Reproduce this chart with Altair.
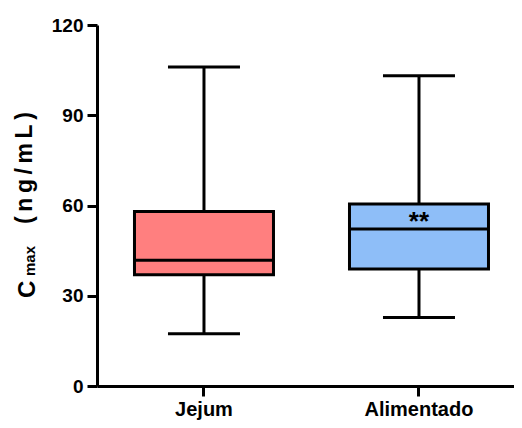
import altair as alt
import pandas as pd

# ---- data ----
groups = ["Jejum", "Alimentado"]
whisker_low = [17.4, 22.8]
q1 = [37.0, 38.9]
median = [41.8, 52.2]
q3 = [58.0, 60.5]
whisker_high = [106.0, 103.1]
fills = ["#FF7F7F", "#8EBEF8"]
y_ticks = [0, 30, 60, 90, 120]
ann_text = ["", "**"]
ann_y = [0, 55.9]

df = pd.DataFrame({
    "group": groups,
    "low": whisker_low,
    "q1": q1,
    "median": median,
    "q3": q3,
    "high": whisker_high,
    "ann": ann_text,
    "ann_y": ann_y,
})

FONT = "Liberation Sans"

xenc = alt.X(
    "group:N",
    sort=groups,
    scale=alt.Scale(paddingInner=0.3535, paddingOuter=0.1465, align=0.595),
    axis=alt.Axis(
        title=None, labelFont=FONT, labelFontSize=20, labelFontWeight="bold",
        labelColor="black", labelAngle=0, domainColor="black", domainWidth=3,
        tickColor="black", tickWidth=3, tickSize=10, labelPadding=3, grid=False,
    ),
)
yscale = alt.Scale(domain=[0, 120], nice=False, zero=True)
yaxis = alt.Axis(
    title=None, values=y_ticks, labelFont=FONT, labelFontSize=19,
    labelFontWeight="bold", labelColor="black", domainColor="black",
    domainWidth=3, tickColor="black", tickWidth=3, tickSize=10,
    labelPadding=4, grid=False,
)

def Y(field):
    return alt.Y(field, scale=yscale, axis=yaxis)

base = alt.Chart(df)

whisk = base.mark_rule(color="black", strokeWidth=3).encode(
    x=xenc, y=Y("low:Q"), y2="high:Q"
)
cap_low = base.mark_tick(color="black", size=72, thickness=3, opacity=1).encode(
    x=xenc, y=Y("low:Q")
)
cap_high = base.mark_tick(color="black", size=72, thickness=3, opacity=1).encode(
    x=xenc, y=Y("high:Q")
)
box = base.mark_bar(stroke="black", strokeWidth=3, opacity=1).encode(
    x=xenc, y=Y("q1:Q"), y2="q3:Q",
    color=alt.Color("group:N", scale=alt.Scale(domain=groups, range=fills), legend=None),
)
med = base.mark_tick(color="black", size=139, thickness=3, opacity=1).encode(
    x=xenc, y=Y("median:Q")
)
ann = base.mark_text(font=FONT, fontSize=26, fontWeight="bold", baseline="middle",
                     color="black", dy=4).encode(
    x=xenc, y=Y("ann_y:Q"), text="ann:N"
)

one = pd.DataFrame({"k": [0]})
t_c = alt.Chart(one).mark_text(font=FONT, fontSize=24, fontWeight="bold", angle=270,
                               align="left", baseline="alphabetic", color="black").encode(
    x=alt.value(-62), y=alt.value(273), text=alt.value("C")
)
t_max = alt.Chart(one).mark_text(font=FONT, fontSize=15, fontWeight="bold", angle=270,
                                 align="left", baseline="alphabetic", color="black").encode(
    x=alt.value(-62), y=alt.value(251), text=alt.value("max")
)
t_unit = alt.Chart(one).mark_text(font=FONT, fontSize=23, fontWeight="bold", angle=270,
                                  align="left", baseline="alphabetic", color="black").encode(
    x=alt.value(-65), y=alt.value(199),
    text=alt.value("(\u2009n\u2009g\u2009/\u2009m\u2009L\u2009)")
)

chart = alt.layer(whisk, cap_low, cap_high, box, med, ann, t_c, t_max, t_unit).properties(
    width=417, height=361,
    autosize=alt.AutoSizeParams(type="none"),
    padding={"left": 89, "top": 17, "right": 0, "bottom": 34},
    background="white",
).configure_view(stroke=None)

chart.save("out.html", embed_options={"renderer": "svg", "actions": False})
